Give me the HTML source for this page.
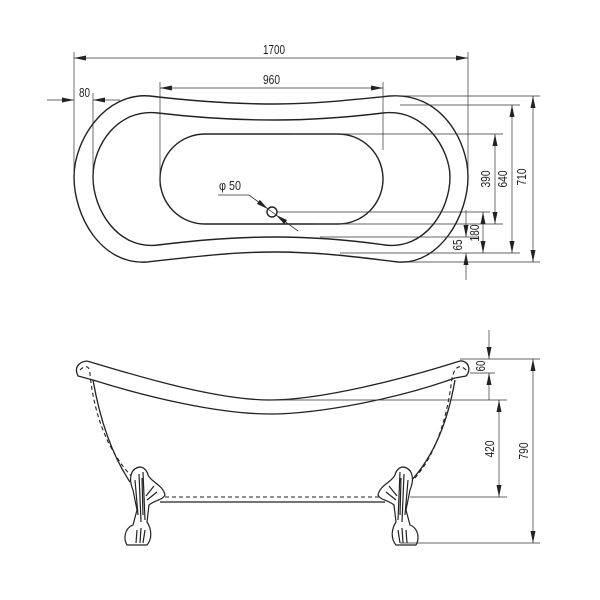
<!DOCTYPE html>
<html><head><meta charset="utf-8"><style>
html,body{margin:0;padding:0;background:#fff}
svg{display:block}
text{font-family:"Liberation Sans",sans-serif;font-size:13px;fill:#222}
</style></head><body>
<svg width="600" height="600" viewBox="0 0 600 600" xmlns="http://www.w3.org/2000/svg">
<defs>
<marker id="a" viewBox="0 0 12 5" refX="12" refY="2.5" markerWidth="12" markerHeight="5" orient="auto-start-reverse" markerUnits="userSpaceOnUse">
<path d="M0,0 L12,2.5 L0,5 z" fill="#222"/></marker>
</defs>
<g fill="none" stroke="#222" stroke-width="1.4">
<path d="M150,96 C200,102 240,104 275,104 C315,104 350,100 390,96 C440,92 468,140 468,177 C468,215 440,265 398,262 C350,256 315,252 275,252 C235,252 200,256 147,262 C100,265 74,215 74,177 C74,140 105,92 150,96 Z"/>
<path d="M158,113 C200,118 240,120 275,120 C315,120 350,117 383,113 C425,108 450,150 450,177 C450,210 425,250 385,245 C350,240 315,237 275,237 C235,237 200,240 158,245 C118,250 93,210 93,177 C93,145 118,108 158,113 Z"/>
<rect x="160" y="134" width="223" height="90" rx="45" ry="45"/>
<circle cx="272" cy="212" r="5"/>
</g>
<g fill="none" stroke="#333" stroke-width="0.7">
<line x1="74" y1="52" x2="74" y2="175"/><line x1="468" y1="52" x2="468" y2="175"/>
<line x1="74" y1="58" x2="468" y2="58" marker-start="url(#a)" marker-end="url(#a)"/>
<line x1="160" y1="82" x2="160" y2="187"/><line x1="383" y1="82" x2="383" y2="150"/>
<line x1="160" y1="88" x2="383" y2="88" marker-start="url(#a)" marker-end="url(#a)"/>
<line x1="93" y1="93" x2="93" y2="180"/>
<line x1="47" y1="100" x2="74" y2="100" marker-end="url(#a)"/>
<line x1="120" y1="100" x2="93" y2="100" marker-end="url(#a)"/>
<line x1="218" y1="195" x2="249" y2="195"/><line x1="249" y1="195" x2="298" y2="231"/>
<line x1="249" y1="195" x2="268" y2="209" marker-end="url(#a)"/>
<line x1="298" y1="231" x2="276" y2="215" marker-end="url(#a)"/>
<line x1="390" y1="96" x2="540" y2="96"/><line x1="398" y1="262" x2="540" y2="262"/>
<line x1="533" y1="96" x2="533" y2="262" marker-start="url(#a)" marker-end="url(#a)"/>
<line x1="400" y1="105" x2="520" y2="105"/><line x1="340" y1="253" x2="520" y2="253"/>
<line x1="512" y1="105" x2="512" y2="253" marker-start="url(#a)" marker-end="url(#a)"/>
<line x1="290" y1="134" x2="503" y2="134"/><line x1="315" y1="224" x2="503" y2="224"/>
<line x1="495" y1="134" x2="495" y2="224" marker-start="url(#a)" marker-end="url(#a)"/>
<line x1="277" y1="212" x2="490" y2="212"/><line x1="320" y1="237" x2="478" y2="237"/>
<line x1="483" y1="212" x2="483" y2="253" marker-start="url(#a)" marker-end="url(#a)"/>
<line x1="466" y1="210" x2="466" y2="237" marker-end="url(#a)"/>
<line x1="466" y1="280" x2="466" y2="253" marker-end="url(#a)"/>
</g>
<g>
<text x="263" y="54" textLength="22" lengthAdjust="spacingAndGlyphs">1700</text>
<text x="263" y="84" textLength="17" lengthAdjust="spacingAndGlyphs">960</text>
<text x="79" y="97" textLength="11" lengthAdjust="spacingAndGlyphs">80</text>
<text x="219" y="190" textLength="22" lengthAdjust="spacingAndGlyphs">φ 50</text>
<text transform="translate(526,177) rotate(-90)" text-anchor="middle" textLength="17" lengthAdjust="spacingAndGlyphs">710</text>
<text transform="translate(507,179) rotate(-90)" text-anchor="middle" textLength="17" lengthAdjust="spacingAndGlyphs">640</text>
<text transform="translate(490,179) rotate(-90)" text-anchor="middle" textLength="17" lengthAdjust="spacingAndGlyphs">390</text>
<text transform="translate(479,233) rotate(-90)" text-anchor="middle" textLength="17" lengthAdjust="spacingAndGlyphs">180</text>
<text transform="translate(462,245) rotate(-90)" text-anchor="middle" textLength="11" lengthAdjust="spacingAndGlyphs">65</text>
</g>

<g fill="none" stroke="#222" stroke-width="1.3">
<path d="M87,361 C150,380 220,400 270,400 C320,400 400,380 460,361"/>
<path d="M93,380 C150,398 220,414 270,414 C320,414 400,398 455,378"/>
<path d="M87,361 C78,362 74,368 78,376 L93,380"/>
<path d="M460,361 C468,360 472,370 466,376 L455,378"/>
<path d="M93,380 C100,420 112,455 130,482"/>
<path d="M455,380 C448,420 435,455 410,482"/>
<line x1="160" y1="502" x2="385" y2="502"/>
</g>
<g fill="none" stroke="#222" stroke-width="1.1" stroke-dasharray="4,3">
<path d="M80,370 C85,365 90,365 90,375 C95,420 110,455 135,480"/>
<path d="M466,370 C460,364 455,366 452,378 C447,420 435,455 415,478"/>
<line x1="165" y1="497" x2="380" y2="497"/>
</g>
<g fill="#fff" stroke="#222" stroke-width="1.2">
<path d="M403,467 C412,468 415,478 410,490 L406,510 L410,525 C418,528 420,538 416,545 L396,545 C390,538 392,528 396,522 L394,505 C388,500 380,500 378,495 C380,485 392,482 395,475 C396,470 400,467 403,467 Z"/>
<path d="M140,467 C131,468 128,478 133,490 L137,510 L133,525 C125,528 123,538 127,545 L147,545 C153,538 151,528 147,522 L149,505 C155,500 163,500 165,495 C163,485 151,482 148,475 C147,470 143,467 140,467 Z"/>
</g>
<g fill="none" stroke="#222" stroke-width="1.2">
<path d="M400,472 L398,520 M404,474 L402,522 M408,480 L405,515 M386,492 L396,500 M389,486 L397,496 M401,478 L400,515"/>
<path d="M398,530 L400,543 M406,530 L407,543 M402,528 L403,543"/>
<path d="M143,472 L145,520 M139,474 L141,522 M135,480 L138,515 M157,492 L147,500 M154,486 L146,496 M142,478 L143,515"/>
<path d="M145,530 L143,543 M137,530 L136,543 M141,528 L140,543"/>
</g>
<g fill="none" stroke="#333" stroke-width="0.7">
<line x1="460" y1="359" x2="540" y2="359"/><line x1="470" y1="373" x2="495" y2="373"/>
<line x1="489" y1="330" x2="489" y2="359" marker-end="url(#a)"/>
<line x1="489" y1="400" x2="489" y2="373" marker-end="url(#a)"/>
<line x1="270" y1="400" x2="507" y2="400"/>
<line x1="410" y1="497" x2="507" y2="497"/>
<line x1="499" y1="400" x2="499" y2="497" marker-start="url(#a)" marker-end="url(#a)"/>
<line x1="400" y1="543" x2="540" y2="543"/>
<line x1="533" y1="359" x2="533" y2="543" marker-start="url(#a)" marker-end="url(#a)"/>
</g>
<text transform="translate(485,366) rotate(-90)" text-anchor="middle" textLength="11" lengthAdjust="spacingAndGlyphs">60</text>
<text transform="translate(494,449) rotate(-90)" text-anchor="middle" textLength="17" lengthAdjust="spacingAndGlyphs">420</text>
<text transform="translate(528,451) rotate(-90)" text-anchor="middle" textLength="17" lengthAdjust="spacingAndGlyphs">790</text>
</svg>
</body></html>
